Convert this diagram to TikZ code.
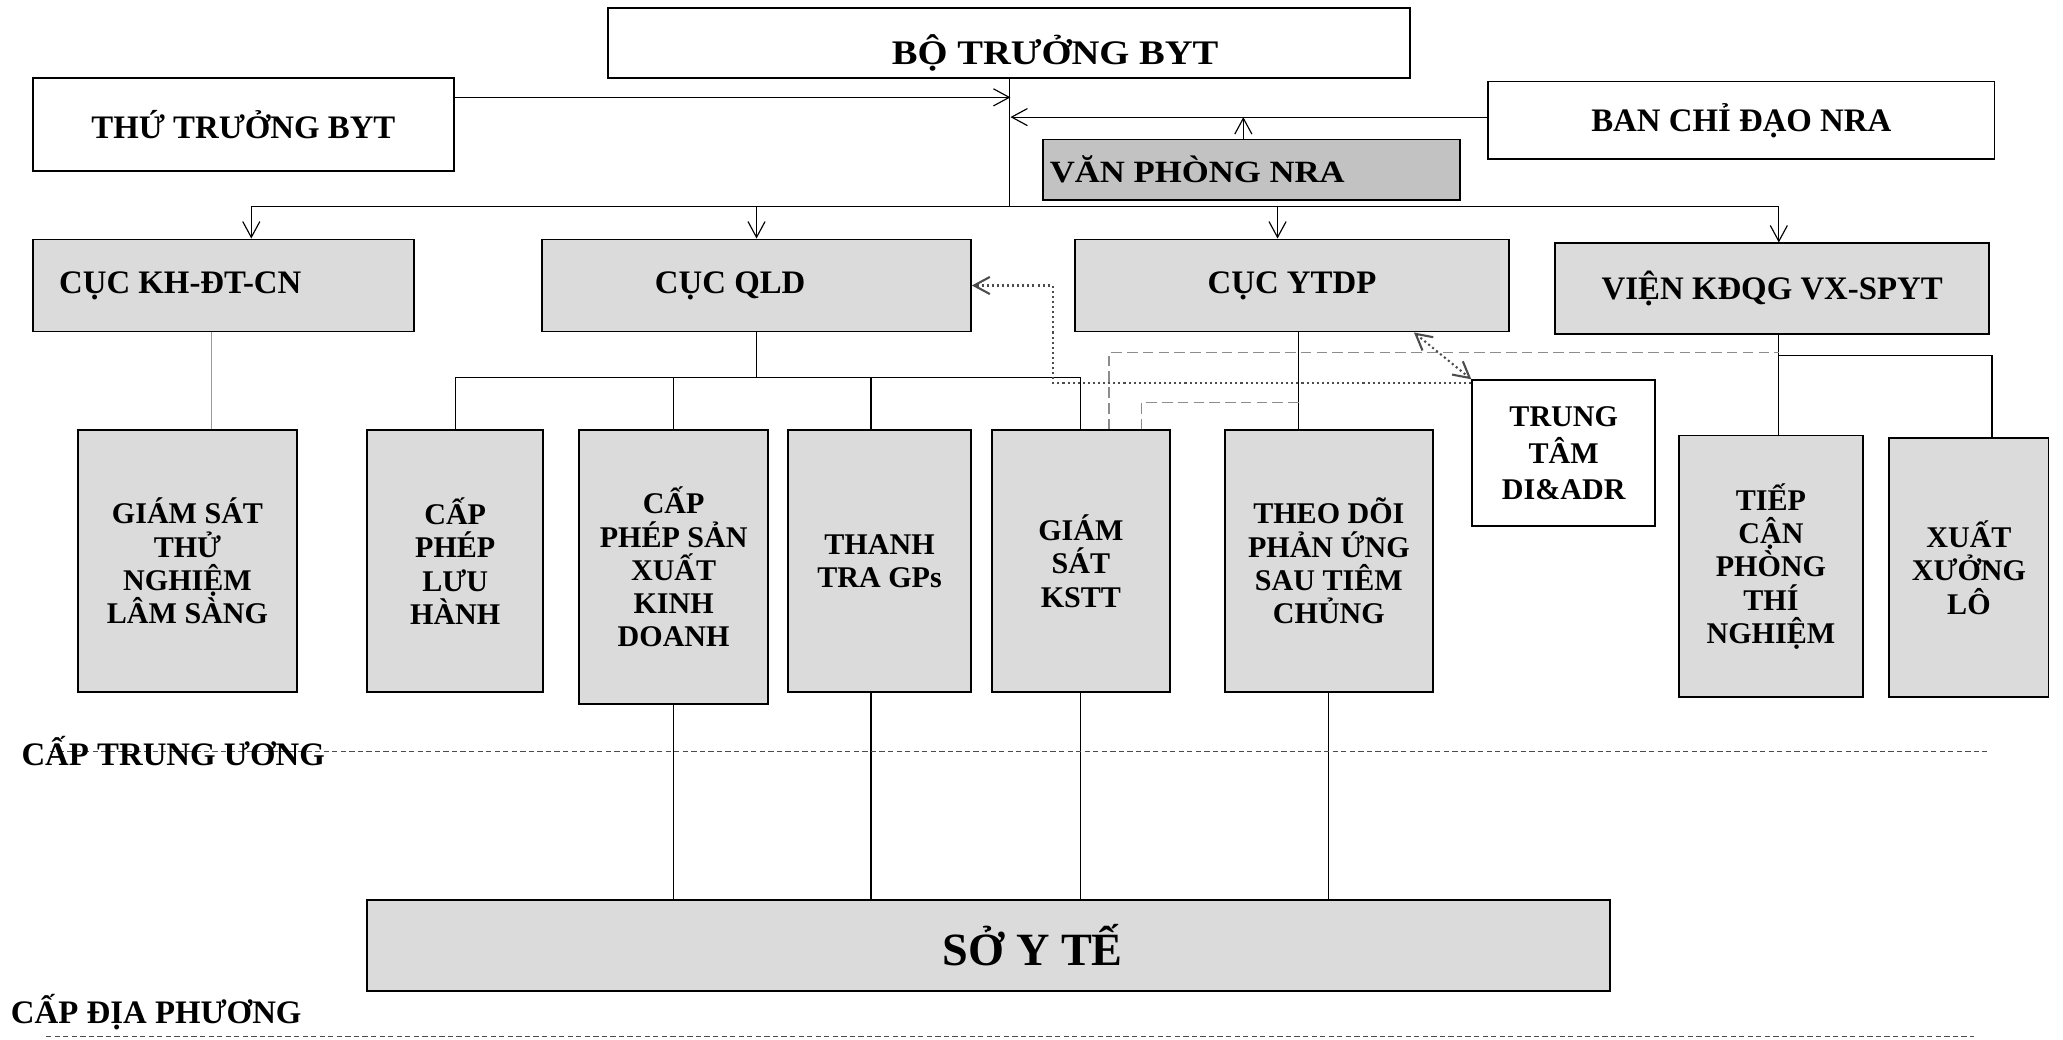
\documentclass[tikz,border=0pt]{standalone}
\usepackage{fontspec}
\setmainfont{Liberation Serif}
\newfontfamily\widefont[FakeStretch=1.12]{Liberation Serif}
\usetikzlibrary{arrows.meta}
\def\mainsize{\bfseries\fontsize{14.2}{16}\selectfont}
\def\tallsize{\bfseries\fontsize{13}{14.4}\selectfont}

\begin{document}
\begin{tikzpicture}[x=0.02cm, y=-0.02cm,
    box/.style={draw, line width=0.8pt, fill=black!14, inner sep=2pt, align=center, font=\mainsize},
    whitebox/.style={box, fill=white},
    tallbox/.style={box, minimum height=3.98cm, font=\tallsize},
    link/.style={line width=0.5pt},
    arr/.style={link, -{Straight Barb[length=0.24cm,width=0.26cm]}},
    dblarr/.style={link, {Straight Barb[length=0.24cm,width=0.26cm]}-{Straight Barb[length=0.24cm,width=0.26cm]}},
    graydash/.style={black!45, line width=0.6pt, dash pattern=on 0.16cm off 0.08cm},
    dotline/.style={black!70, dash pattern=on 0.9pt off 1.3pt},
    lvlline/.style={black!70, line width=0.5pt, dash pattern=on 0.08cm off 0.05cm},
    lvltext/.style={font=\mainsize, inner sep=0pt, anchor=west}]
  \useasboundingbox (0,0) rectangle (1568,790);

  \node[whitebox, minimum width=12.2cm, minimum height=1.06cm,
    label={[font=\widefont\bfseries\fontsize{14.9}{16}\selectfont, xshift=0.7cm, yshift=-0.16cm]center:BỘ TRƯỞNG BYT}] (bo) at (767,32.5) {};
  \node[whitebox, minimum width=6.4cm, minimum height=1.42cm] (thu) at (185,94.5) {THỨ TRƯỞNG BYT};
  \node[whitebox, minimum width=7.7cm, minimum height=1.18cm] (ban) at (1323.5,91.5) {BAN CHỈ ĐẠO NRA};
  \node[box, fill=black!24, minimum width=6.34cm, minimum height=0.92cm,
    font=\widefont\bfseries\fontsize{13.4}{15}\selectfont] (van) at (951.5,129) {VĂN PHÒNG NRA\hspace*{1.66cm}};

  \node[box, minimum width=5.8cm, minimum height=1.4cm] (kh) at (170,217) {CỤC KH-ĐT-CN\hspace*{1.32cm}};
  \node[box, minimum width=6.52cm, minimum height=1.4cm] (qld) at (575,217) {CỤC QLD\hspace*{0.8cm}};
  \node[box, minimum width=6.6cm, minimum height=1.4cm] (ytdp) at (982,217) {CỤC YTDP};
  \node[box, minimum width=6.6cm, minimum height=1.38cm] (vien) at (1347,219.5) {VIỆN KĐQG VX-SPYT};

  \node[tallbox, minimum width=3.34cm] (gs) at (142.5,426.5) {GIÁM SÁT\\THỬ\\NGHIỆM\\LÂM SÀNG};
  \node[tallbox, minimum width=2.68cm] (lh) at (346,426.5) {CẤP\\PHÉP\\LƯU\\HÀNH};
  \node[tallbox, minimum width=2.88cm, minimum height=4.16cm] (sx) at (512,431) {CẤP\\PHÉP SẢN\\XUẤT\\KINH\\DOANH};
  \node[tallbox, minimum width=2.78cm] (tt) at (668.5,426.5) {THANH\\TRA GPs};
  \node[tallbox, minimum width=2.7cm] (ks) at (821.5,426.5) {GIÁM\\SÁT\\KSTT};
  \node[tallbox, minimum width=3.16cm] (td) at (1010,426.5) {THEO DÕI\\PHẢN ỨNG\\SAU TIÊM\\CHỦNG};
  \node[whitebox, minimum width=2.78cm, minimum height=2.22cm,
    font=\bfseries\fontsize{13}{15.6}\selectfont] (dd) at (1188.5,344.5) {TRUNG\\TÂM\\DI\&ADR};
  \node[tallbox, minimum width=2.8cm] (tc) at (1346,430.5) {TIẾP\\CẬN\\PHÒNG\\THÍ\\NGHIỆM};
  \node[tallbox, minimum width=2.42cm, minimum height=3.94cm] (xx) at (1496.5,431.5) {XUẤT\\XƯỞNG\\LÔ};

  \node[box, minimum width=18.9cm, minimum height=1.38cm,
    font=\bfseries\fontsize{20}{22}\selectfont] (so) at (751.5,718.5) {\hspace*{1.34cm}SỞ Y TẾ};

  \coordinate (jt) at (768,74);
  \coordinate (jb) at (768,89);
  \coordinate (bus) at (768,157);
  \coordinate (qb) at (575,287);
  \coordinate (vj) at (1352,270);
  \coordinate (dj1) at (1352,268);
  \coordinate (dj2) at (987,306);
  \coordinate (dq) at (800,217);

  \draw[link] (bo.south) -- (bo.south |- bus);
  \draw[arr] (thu.east |- jt) -- (jt);
  \draw[arr] (ban.west |- jb) -- (jb);
  \draw[arr] ([xshift=-0.13cm]van.north) -- ([xshift=-0.13cm]van.north |- jb);
  \draw[link] ([xshift=0.42cm]kh.north |- bus) -- ([xshift=0.1cm]vien.north |- bus);
  \foreach \n/\dx in {kh/0.42, qld/0, ytdp/-0.22, vien/0.1}
    \draw[arr] ([xshift=\dx cm]\n.north |- bus) -- ([xshift=\dx cm]\n.north);

  \draw[link, black!40] ([xshift=-0.18cm]kh.south) -- ([xshift=-0.18cm]kh.south |- gs.north);
  \draw[link] (qld.south) -- (qb);
  \draw[link] (lh.north |- qb) -- (ks.north |- qb);
  \foreach \n/\dx in {lh/0, sx/0, tt/-0.13, ks/0}
    \draw[link] ([xshift=\dx cm]\n.north |- qb) -- ([xshift=\dx cm]\n.north);
  \draw[link] ([xshift=0.1cm]ytdp.south) -- ([xshift=0.1cm]ytdp.south |- td.north);
  \draw[link] ([xshift=0.1cm]vien.south) -- ([xshift=0.1cm]vien.south |- tc.north);
  \draw[link] (vj) -| ([xshift=0.35cm]xx.north);
  \foreach \n/\dx in {sx/0, tt/-0.13, ks/0, td/0}
    \draw[link] ([xshift=\dx cm]\n.south) -- ([xshift=\dx cm]\n.south |- so.north);

  \draw[graydash] ([xshift=0.43cm]ks.north) |- (dj1);
  \draw[graydash] ([xshift=0.92cm]ks.north) |- (dj2);
  \draw[arr, dotline, line width=0.9pt] ([yshift=-0.05cm]dd.north west) -| (dq) -- (qld.east);
  \draw[dblarr, dotline, line width=0.9pt] ([xshift=-1.46cm]ytdp.south east) -- (dd.north west);

  \draw[lvlline] (38,571) -- (1510,571);
  \node[lvltext] (tw) at (16,571) {CẤP TRUNG ƯƠNG};
  \node[lvltext] (dp) at (8,769) {CẤP ĐỊA PHƯƠNG};
  \draw[lvlline] (35,788) -- (1500,788);
\end{tikzpicture}
\end{document}
